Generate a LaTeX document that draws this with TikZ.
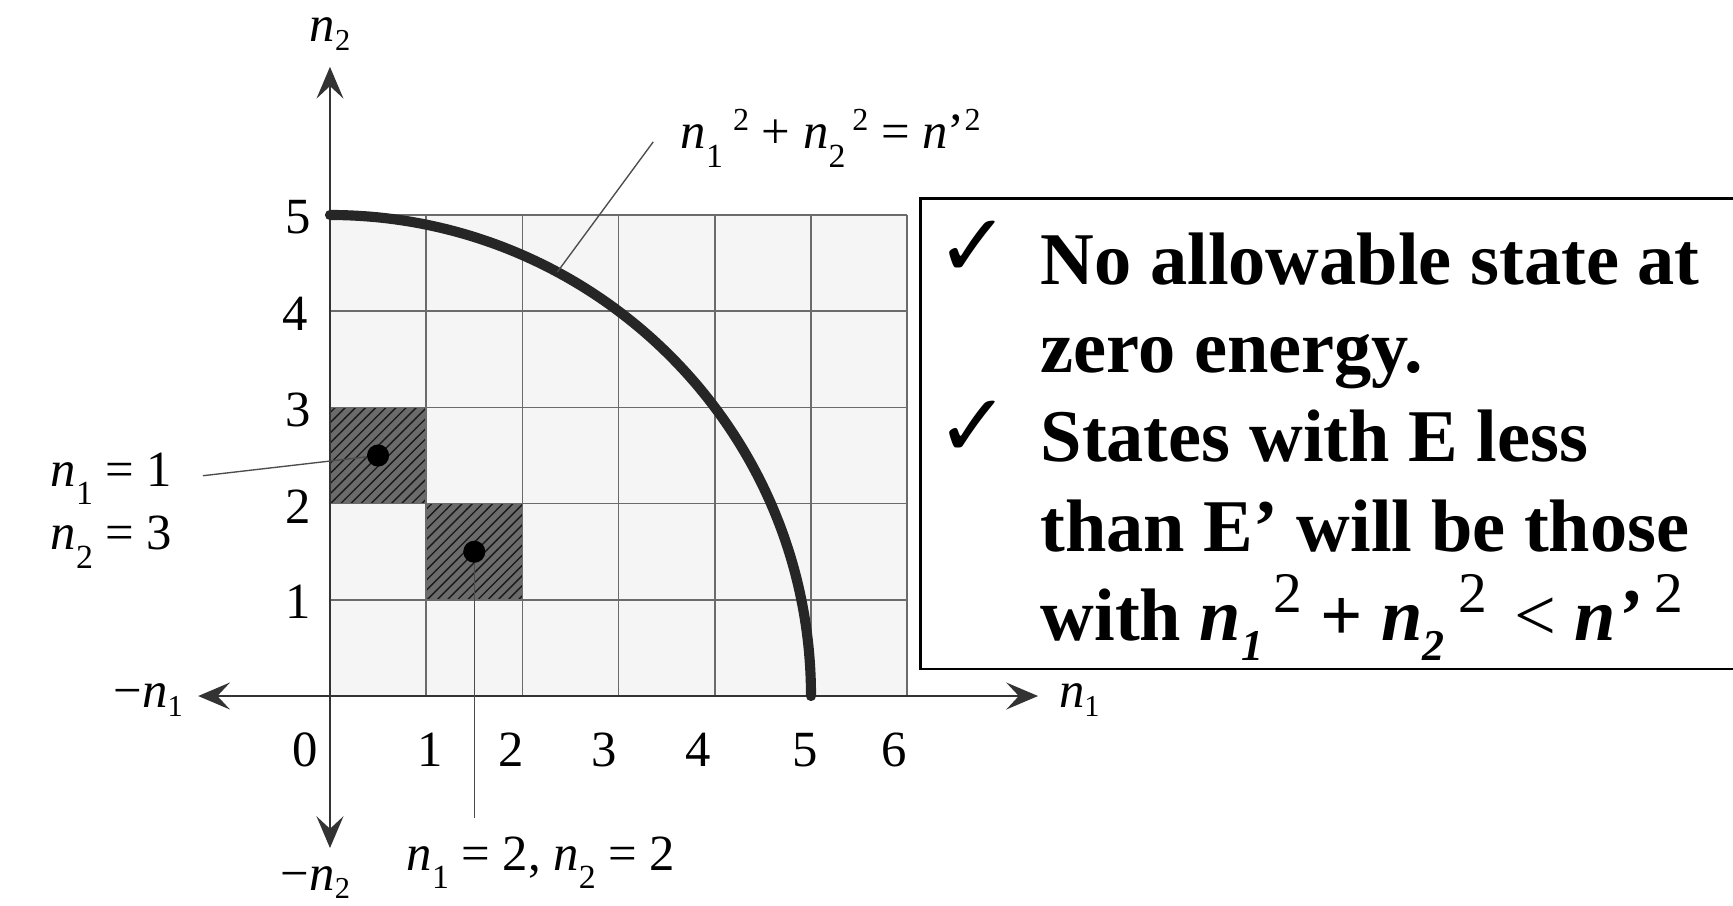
\documentclass[tikz,border=0pt]{standalone}
\usepackage{fontspec}
\setmainfont{Liberation Serif}
\newfontfamily\symfont{DejaVu Sans}
\usetikzlibrary{arrows.meta, patterns}

% lowered / raised indices for the labels
\newcommand{\sublo}[1]{\raisebox{-5.5pt}{\fontsize{10}{10}\selectfont #1}}
\newcommand{\suphi}[1]{\raisebox{5.5pt}{\fontsize{9.5}{9.5}\selectfont #1}}
\newcommand{\axsub}[1]{\raisebox{-2.5pt}{\fontsize{9}{9}\selectfont #1}}
\newcommand{\bsub}[1]{\raisebox{-6pt}{\fontsize{13}{13}\selectfont\bfseries\itshape #1}}
\newcommand{\bsup}[1]{\raisebox{8pt}{\fontsize{17}{17}\selectfont\mdseries #1}}

\begin{document}
\begin{tikzpicture}[
        >={Stealth[length=3.3mm, width=2.8mm, inset=1.3mm]},
        gridline/.style={draw=black!58, line width=0.5pt},
        axisline/.style={draw=black!80, line width=0.6pt},
        bigarc/.style={draw=black!85, line width=3pt, line cap=round},
        shaded/.style={fill=black!58, postaction={pattern=north east lines, pattern color=black!90}},
        leader/.style={draw=black!70, line width=0.4pt},
        dot/.style={circle, fill=black, inner sep=0pt, minimum size=0.23cm},
        ticklabel/.style={inner sep=0pt, font=\fontsize{15}{18}\selectfont},
        caption/.style={inner sep=0pt, anchor=base west, font=\fontsize{15}{18}\selectfont},
        axislabel/.style={inner sep=0pt, anchor=base, font=\fontsize{15}{18}\selectfont},
        boxtext/.style={inner sep=0pt, anchor=base west, font=\fontsize{22}{26}\selectfont\bfseries},
        check/.style={inner sep=0pt, font=\symfont\fontsize{26}{28}\selectfont}
    ]
        % Page
        \fill[white] (-3.43,-2.173) rectangle (14.584,7.235);
        \useasboundingbox (-3.43,-2.173) rectangle (14.584,7.235);

        % Grid of states
        \fill[black!4] (0,0) rectangle (6,5);
        \fill[shaded] (0,2) rectangle (1,3);
        \fill[shaded] (1,1) rectangle (2,2);
        \draw[gridline] (0,0) grid (6,5);

        % Axes
        \coordinate (xneg) at (-1.37,0);
        \coordinate (xpos) at (7.36,0);
        \coordinate (yneg) at (0,-1.58);
        \coordinate (ypos) at (0,6.54);
        \draw[axisline, <->] (xneg) -- (xpos);
        \draw[axisline, <->] (yneg) -- (ypos);

        \node[axislabel] (lxpos) at (7.79,-0.12) {\textit{n}\axsub{1}};
        \node[axislabel] (lxneg) at (-1.89,-0.12) {−\textit{n}\axsub{1}};
        \node[axislabel] (lypos) at (0,6.80) {\textit{n}\axsub{2}};
        \node[axislabel] (lyneg) at (-0.15,-2.02) {−\textit{n}\axsub{2}};

        % Tick labels
        \node[ticklabel] (x0) at (-0.26,-0.56) {0};
        \node[ticklabel] (x1) at (1.04,-0.56) {1};
        \node[ticklabel] (x2) at (1.88,-0.56) {2};
        \node[ticklabel] (x3) at (2.85,-0.56) {3};
        \node[ticklabel] (x4) at (3.83,-0.56) {4};
        \node[ticklabel] (x5) at (4.94,-0.56) {5};
        \node[ticklabel] (x6) at (5.86,-0.56) {6};
        \node[ticklabel] (y1) at (-0.33,0.98) {1};
        \node[ticklabel] (y2) at (-0.33,1.97) {2};
        \node[ticklabel] (y3) at (-0.33,2.97) {3};
        \node[ticklabel] (y4) at (-0.36,3.97) {4};
        \node[ticklabel] (y5) at (-0.33,4.98) {5};

        % Constant energy circle
        \draw[bigarc] (0,5) arc[start angle=90, end angle=0, radius=5];
        \coordinate (onarc) at (61.8:5);
        \coordinate (lcirc) at (3.36,5.76);
        \draw[leader] (lcirc) -- (onarc);
        \node[caption] (circ) at (3.64,5.69) {\textit{n}\sublo{1}\hspace{3pt}\suphi{2} + \textit{n}\sublo{2}\hspace{2pt}\suphi{2} = \textit{n}’\suphi{2}};

        % Two sample states
        \node[dot] (d13) at (0.5,2.5) {};
        \node[dot] (d22) at (1.5,1.5) {};
        \coordinate (l13) at (-1.32,2.29);
        \coordinate (l22) at (1.5,-1.27);
        \draw[leader] (l13) -- (d13);
        \draw[leader] (d22) -- (l22);
        \node[caption] (s13a) at (-2.91,2.18) {\textit{n}\sublo{1} = 1};
        \node[caption] (s13b) at (-2.91,1.52) {\textit{n}\sublo{2} = 3};
        \node[caption] (s22) at (0.79,-1.81) {\textit{n}\sublo{1} = 2, \textit{n}\sublo{2} = 2};

        % Note box
        \draw[black, line width=0.8pt] (6.14,0.28) rectangle (14.8,5.17);
        \node[check] (c1) at (6.69,4.65) {✓};
        \node[check] (c2) at (6.69,2.78) {✓};
        \node[boxtext] (t1) at (7.38,4.28) {No allowable state at};
        \node[boxtext] (t2) at (7.38,3.365) {zero energy.};
        \node[boxtext] (t3) at (7.38,2.436) {States with E less};
        \node[boxtext] (t4) at (7.38,1.50) {than E’ will be those};
        \node[boxtext] (t5) at (7.38,0.582) {with \textit{n}\bsub{1}\hspace{3pt}\bsup{2} + \textit{n}\bsub{2}\hspace{4pt}\bsup{2}\hspace{8pt}\mdseries<\bfseries{} \textit{n’}\hspace{4pt}\bsup{2}};
    \end{tikzpicture}
\end{document}
